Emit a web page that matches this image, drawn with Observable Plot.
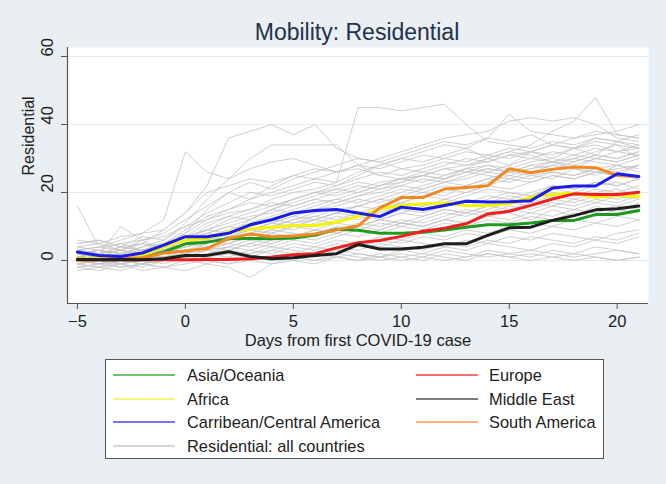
<!DOCTYPE html>
<html><head><meta charset="utf-8">
<script src="https://cdn.jsdelivr.net/npm/d3@7"></script>
<script src="https://cdn.jsdelivr.net/npm/@observablehq/plot@0.6"></script>
<style>
html,body{margin:0;padding:0;background:#e9eff2;}
#wrap{position:relative;width:666px;height:484px;overflow:hidden;background:#e9eff2;font-family:"Liberation Sans",Arial,sans-serif;}
#title{position:absolute;left:0;width:714px;top:19px;text-align:center;font-size:23px;color:#22324f;line-height:26px;}
#chart{position:absolute;left:0;top:40px;}
#legend{position:absolute;left:105px;top:359px;width:499px;height:100px;background:#fff;border:1px solid #555;box-sizing:border-box;}
.li{position:absolute;font-size:16.4px;color:#222;line-height:18px;white-space:nowrap;}
.ls{position:absolute;height:2px;}
</style></head>
<body><div id="wrap"><div id="title">Mobility: Residential</div><div id="chart"></div><div id="legend"></div></div>
<script>
const days = [-5,-4,-3,-2,-1,0,1,2,3,4,5,6,7,8,9,10,11,12,13,14,15,16,17,18,19,20,21];
const xTicks = [-5,0,5,10,15,20];
const yTicks = [0,20,40,60];

const asiaOceania = [0.5,0.4,0.5,0.8,2.5,4.9,5.4,6.4,6.5,6.4,6.6,7.5,9.2,8.9,8.0,8.0,8.3,9.0,9.8,10.5,10.5,11.0,11.8,11.8,13.5,13.5,14.7];
const europe = [0.3,0.2,0.2,0.2,0.3,0.2,0.3,0.3,0.5,1.0,1.7,2.0,3.7,5.2,5.9,7.1,8.6,9.5,10.8,13.7,14.5,16.2,18.1,19.6,19.4,19.4,20.1];
const africa = [0.5,0.5,0.8,1.5,4.0,6.0,6.5,8.3,9.3,9.8,10.3,10.3,11.3,13.0,15.2,16.2,16.7,16.9,16.2,16.2,16.7,18.6,19.4,19.8,18.6,19.2,18.8];
const middleEast = [0.3,0.2,0.3,0.2,0.5,1.5,1.5,2.6,1.2,0.5,0.8,1.5,2.0,4.7,3.4,3.4,3.9,4.9,4.9,7.4,9.6,9.8,11.8,13.2,14.9,15.2,16.0];
const caribbean = [2.5,1.5,1.2,2.2,4.5,7.0,7.0,8.0,10.5,12.0,14.0,14.7,15.0,14.0,12.9,15.7,15.0,16.2,17.4,17.2,17.3,17.6,21.3,21.9,21.9,25.5,24.7];
const southAmerica = [0,0.3,0.5,0.8,2.2,2.8,3.5,6.5,7.8,7.0,7.2,7.8,9.0,10.2,15.5,18.5,18.5,21.0,21.5,22.0,27.0,25.8,26.8,27.5,27.3,25.0,24.7];

const allCountries = [
[16,4,3,5,4,7,11,13,12,15,17,19,21,20,22,23,25,24,26,27,26,28,29,27,30,29,31],
[3,4,6,8,12,32,26,24,27,29,30,28,26,27,25,27,28,30,29,31,30,32,31,33,34,32,33],
[1,2,3,5,9,14,22,36,38,40,37,40,33,30,29,27,26,28,30,29,31,30,32,31,33,32,34],
[2,1,2,4,6,11,18,24,30,34,34,34,34,28,25,24,26,25,27,28,26,27,29,28,30,29,31],
[0,1,2,1,3,6,10,13,15,18,20,21,23,45,45,44,45,46,40,35,34,33,35,34,36,35,34],
[1,0,2,3,4,6,9,12,14,16,18,20,22,25,28,30,32,34,33,36,43,38,37,36,38,37,36],
[0,1,1,2,3,5,6,8,9,10,12,14,15,16,18,20,22,24,27,30,32,34,38,41,48,37,36],
[2,1,0,2,3,5,7,9,11,13,15,17,18,20,22,24,25,27,28,29,31,32,34,36,37,38,40],
[1,3,2,4,5,8,12,15,18,20,22,24,26,28,30,32,34,36,37,38,41,42,41,42,40,36,35],
[4,5,3,6,8,12,16,20,18,22,25,24,23,26,28,30,29,31,33,30,28,32,30,33,31,35,33],
[5,6,4,7,6,10,14,17,20,19,21,23,22,24,26,25,27,29,28,30,32,31,29,30,32,34,30],
[2,3,1,2,4,7,9,11,13,14,16,18,17,19,21,22,24,23,25,27,26,28,27,29,31,30,32],
[0,-1,1,0,2,4,6,8,10,12,14,15,17,19,20,22,21,23,24,26,25,27,28,30,29,28,30],
[3,2,4,3,5,9,13,15,17,16,18,20,19,21,23,24,25,27,26,28,27,29,30,29,31,30,32],
[1,0,-1,1,2,3,5,7,9,11,10,12,14,16,18,17,19,21,20,22,24,23,25,24,26,27,28],
[-1,0,1,2,1,3,4,6,8,10,12,13,15,14,16,18,20,19,22,24,23,25,26,25,27,28,26],
[2,1,3,2,4,6,8,7,9,11,13,15,16,18,17,19,21,23,22,24,26,25,24,27,26,25,28],
[4,3,5,6,7,10,12,14,15,17,16,18,20,22,21,23,25,24,26,25,24,26,28,27,25,28,27],
[-2,-1,0,-1,1,2,4,5,7,9,11,12,14,16,15,17,19,18,20,22,21,23,25,24,26,25,24],
[0,1,0,2,3,5,7,6,8,10,9,11,13,12,14,16,15,17,19,21,20,19,22,21,23,22,24],
[1,2,1,0,2,4,5,7,6,8,10,9,11,13,12,14,16,17,16,18,20,19,21,20,22,23,21],
[-2,-3,-1,-2,0,1,3,4,6,5,7,9,8,10,12,11,13,15,14,16,18,17,19,18,20,21,19],
[3,2,4,3,5,7,9,8,10,12,11,13,12,14,13,15,14,16,18,17,19,18,20,19,21,20,22],
[0,-1,0,1,0,2,3,5,4,6,8,7,9,11,10,12,11,13,15,14,16,15,17,16,18,17,19],
[-1,0,-2,-1,0,1,2,4,3,5,7,6,8,7,9,11,10,12,11,13,15,14,16,15,17,16,18],
[2,3,2,1,3,4,6,5,7,9,8,7,9,10,12,11,10,12,14,13,12,14,13,15,14,16,15],
[1,0,1,0,-1,1,2,3,5,4,6,5,7,9,8,10,9,11,10,12,11,13,12,14,13,15,14],
[-3,-2,-3,-1,-2,0,1,0,2,3,5,4,6,5,7,6,8,7,9,8,10,11,10,12,11,13,12],
[0,1,-1,0,1,0,2,1,3,2,4,3,5,4,6,5,7,6,8,7,9,8,10,9,11,10,12],
[2,1,0,1,2,1,3,2,1,3,2,4,3,5,4,6,5,4,6,5,7,6,8,7,6,8,9],
[-1,-2,-1,-3,-2,-1,0,-1,1,0,2,1,3,2,1,3,2,4,3,5,4,3,5,4,6,5,7],
[0,-1,0,-1,0,1,0,-1,0,1,0,2,1,0,1,2,1,3,2,1,2,3,2,1,2,3,2],
[1,2,1,2,1,0,1,2,1,0,1,0,1,2,1,0,1,0,1,2,1,2,1,0,1,0,1],
[-2,-1,-2,-1,-2,-3,-1,-2,-5,-1,0,-1,1,0,2,1,0,2,1,3,2,1,3,2,4,3,2],
[5,6,4,5,3,6,5,7,6,8,7,9,8,10,9,11,10,12,11,13,14,12,15,13,16,14,17],
[3,4,5,3,4,6,8,10,9,11,13,12,14,13,15,17,16,18,17,19,18,20,22,21,23,22,24],
[0,2,10,6,3,2,5,8,12,15,14,16,18,17,19,21,20,22,21,23,25,24,26,25,27,26,28],
[6,5,7,8,9,14,20,22,24,23,25,27,26,28,27,29,31,30,32,31,33,32,34,33,35,34,33],
[1,0,2,1,3,5,8,10,12,15,18,20,21,23,22,24,23,25,27,26,28,30,29,31,30,32,31],
[-1,-2,0,-1,1,2,4,3,5,7,6,8,10,9,11,10,12,14,13,15,17,16,18,17,19,18,20],
[2,3,2,3,4,6,5,7,9,8,10,12,11,10,12,14,13,15,14,16,15,17,16,18,17,19,18],
[0,0,1,0,1,2,1,3,2,4,3,2,4,3,5,4,3,5,4,6,5,7,6,5,7,6,8],
[-1,0,-1,0,1,0,-1,1,0,-1,1,0,2,1,0,1,2,1,0,2,1,0,1,2,1,0,1],
[1,2,3,2,4,8,15,20,23,21,24,26,28,30,29,31,33,35,34,36,35,37,34,33,36,35,37]
];

const regionNames = ["Asia/Oceania","Africa","Carribean/Central America","Europe","Middle East","South America"];
const regionSeries = [asiaOceania, africa, caribbean, europe, middleEast, southAmerica];
const regionColors = ["#1f9a1f","#f4f400","#1c1ce8","#f02020","#1e1e1e","#f08a24"];
const legendColors = ["#6cc46c","#f6f67a","#7676f0","#ff6e6e","#7a7a7a","#f8b27e"];
const grayLabel = "Residential: all countries";

const grayRows = [];
allCountries.forEach((s, i) => s.forEach((v, j) => grayRows.push({id: i, day: days[j], value: v})));
const regionRows = [];
regionSeries.forEach((s, i) => s.forEach((v, j) => regionRows.push({region: regionNames[i], day: days[j], value: v})));

const xDom = [-5.46, 21.45], yDom = [-12.65, 62.65];
const drawOrder = ["Asia/Oceania","Africa","South America","Europe","Middle East","Carribean/Central America"];

const chart = Plot.plot({
  width: 666, height: 320,
  marginTop: 7, marginBottom: 57, marginLeft: 67, marginRight: 18,
  x: {domain: xDom},
  y: {domain: yDom},
  style: {fontFamily: "'Liberation Sans', Arial, sans-serif", fontSize: "16.5px", color: "#222", background: "transparent", overflow: "visible"},
  marks: [
    Plot.frame({fill: "white", stroke: "none"}),
    Plot.ruleY(yTicks, {stroke: "#e6ebee", strokeWidth: 1}),
    Plot.line(grayRows, {x: "day", y: "value", z: "id", stroke: "#c4c4c4", strokeWidth: 0.9, strokeOpacity: 0.9}),
    ...drawOrder.map(name => Plot.line(regionRows.filter(r => r.region === name), {
      x: "day", y: "value", stroke: regionColors[regionNames.indexOf(name)], strokeWidth: 3, curve: "linear"
    })),
    Plot.ruleX([xDom[0]], {stroke: "#555", strokeWidth: 1.2}),
    Plot.ruleY([yDom[0]], {stroke: "#555", strokeWidth: 1.2}),
    Plot.axisX(xTicks, {tickSize: 6, tickPadding: 6, label: null, stroke: "#555", fill: "#222"}),
    Plot.axisY(yTicks, {tickSize: 6, tickFormat: () => "", label: null, stroke: "#555"}),
    Plot.text(yTicks, {y: d => d, text: d => String(d), frameAnchor: "left", dx: -20, rotate: -90, fill: "#222"}),
    Plot.text(["Residential"], {text: d => d, frameAnchor: "left", dx: -39, rotate: -90, fontSize: 16, fill: "#222"}),
    Plot.text(["Days from first COVID-19 case"], {text: d => d, frameAnchor: "bottom", dy: 42, fontSize: 16.5, fill: "#222"})
  ]
});
document.getElementById("chart").appendChild(chart);

// legend
const leg = document.getElementById("legend");
const col1 = [0, 1, 2], col2 = [3, 4, 5];
function addItem(label, color, col, row) {
  const lx = col === 0 ? 7 : 310, tx = col === 0 ? 81 : 383;
  const cy = 15 + row * 23.7;
  const s = document.createElement("div");
  s.className = "ls"; s.style.left = lx + "px"; s.style.width = "62px"; s.style.top = (cy - 1) + "px"; s.style.background = color;
  const t = document.createElement("div");
  t.className = "li"; t.style.left = tx + "px"; t.style.top = (cy - 9) + "px"; t.textContent = label;
  leg.appendChild(s); leg.appendChild(t);
}
col1.forEach((k, r) => addItem(regionNames[k], legendColors[k], 0, r));
addItem(grayLabel, "#d6d6d6", 0, 3);
col2.forEach((k, r) => addItem(regionNames[k], legendColors[k], 1, r));
</script></body></html>
